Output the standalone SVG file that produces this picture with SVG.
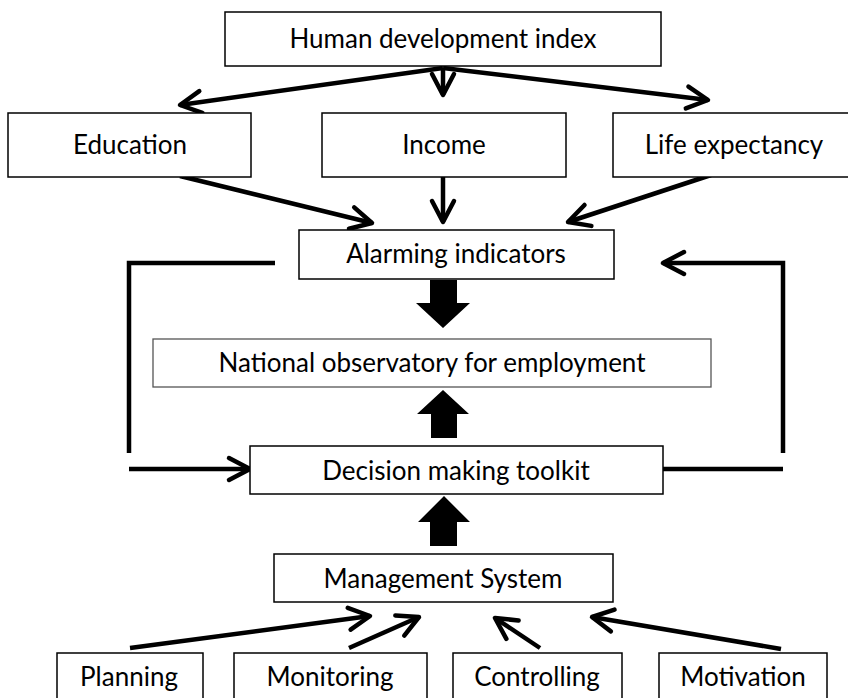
<svg xmlns="http://www.w3.org/2000/svg" width="848" height="698" viewBox="0 0 848 698">
<style>
.box{fill:#fff;stroke:#000;stroke-width:1.5}
.box2{fill:#fff;stroke:#555;stroke-width:1.3}
.t{font-family:Lato,"Open Sans","Liberation Sans",sans-serif;font-size:26px;fill:#000;text-anchor:middle}
.c{fill:none;stroke:#000;stroke-width:4.5;stroke-linecap:butt}
.a{marker-end:url(#ah)}
.blk{fill:#000}
</style>
<defs>
<marker id="ah" markerUnits="userSpaceOnUse" markerWidth="32" markerHeight="32" viewBox="0 0 32 32" refX="27" refY="16" orient="auto">
<path d="M6,5 L27,16 L6,27" fill="none" stroke="#000" stroke-width="4.5" stroke-linejoin="round" stroke-linecap="round"/>
</marker>
</defs>
<g id="connectors">
<line class="c a" x1="443" y1="68" x2="180" y2="105"/>
<line class="c a" x1="443" y1="68" x2="443" y2="95"/>
<line class="c a" x1="443" y1="68" x2="708" y2="100"/>
<line class="c a" x1="180" y1="176" x2="372" y2="223"/>
<line class="c a" x1="443" y1="177" x2="443" y2="222"/>
<line class="c a" x1="711" y1="175" x2="568" y2="222"/>
<polyline class="c" points="275,263 129,263 129,453"/>
<line class="c a" x1="129" y1="469" x2="250" y2="469"/>
<line class="c" x1="663" y1="469" x2="783" y2="469"/>
<polyline class="c a" points="783,453 783,263 663,263"/>
<polygon class="blk" points="430,280 457,280 457,303 470,303 443,328 416,303 430,303"/>
<polygon class="blk" points="431,438 457,438 457,414 469,414 443,390 417,414 431,414"/>
<polygon class="blk" points="430,546 457,546 457,522 470,522 444,496 418,522 430,522"/>
<line class="c a" x1="130" y1="648" x2="370" y2="616"/>
<line class="c a" x1="349" y1="648" x2="419" y2="617"/>
<line class="c a" x1="540" y1="648" x2="495" y2="618"/>
<line class="c a" x1="781" y1="649" x2="592" y2="617"/>
</g>
<g id="hdi"><rect class="box" x="225" y="12" width="436" height="54"/><text class="t" x="443" y="48">Human development index</text></g>
<g id="education"><rect class="box" x="8" y="113" width="243" height="64"/><text class="t" x="130" y="154">Education</text></g>
<g id="income"><rect class="box" x="322" y="113" width="244" height="64"/><text class="t" x="444" y="154">Income</text></g>
<g id="life"><rect class="box" x="613" y="113" width="240" height="64"/><text class="t" x="734" y="154">Life expectancy</text></g>
<g id="alarming"><rect class="box" x="299" y="230" width="315" height="49"/><text class="t" x="456" y="263">Alarming indicators</text></g>
<g id="national"><rect class="box2" x="153" y="339" width="558" height="48"/><text class="t" x="432" y="372">National observatory for employment</text></g>
<g id="decision"><rect class="box" x="250" y="446" width="413" height="48"/><text class="t" x="456" y="480">Decision making toolkit</text></g>
<g id="management"><rect class="box" x="274" y="554" width="339" height="48"/><text class="t" x="443" y="588">Management System</text></g>
<g id="planning"><rect class="box" x="57" y="653" width="146" height="60"/><text class="t" x="129" y="686">Planning</text></g>
<g id="monitoring"><rect class="box" x="234" y="653" width="193" height="60"/><text class="t" x="330" y="686">Monitoring</text></g>
<g id="controlling"><rect class="box" x="453" y="653" width="169" height="60"/><text class="t" x="537" y="686">Controlling</text></g>
<g id="motivation"><rect class="box" x="659" y="653" width="168" height="60"/><text class="t" x="743" y="686">Motivation</text></g>
</svg>
